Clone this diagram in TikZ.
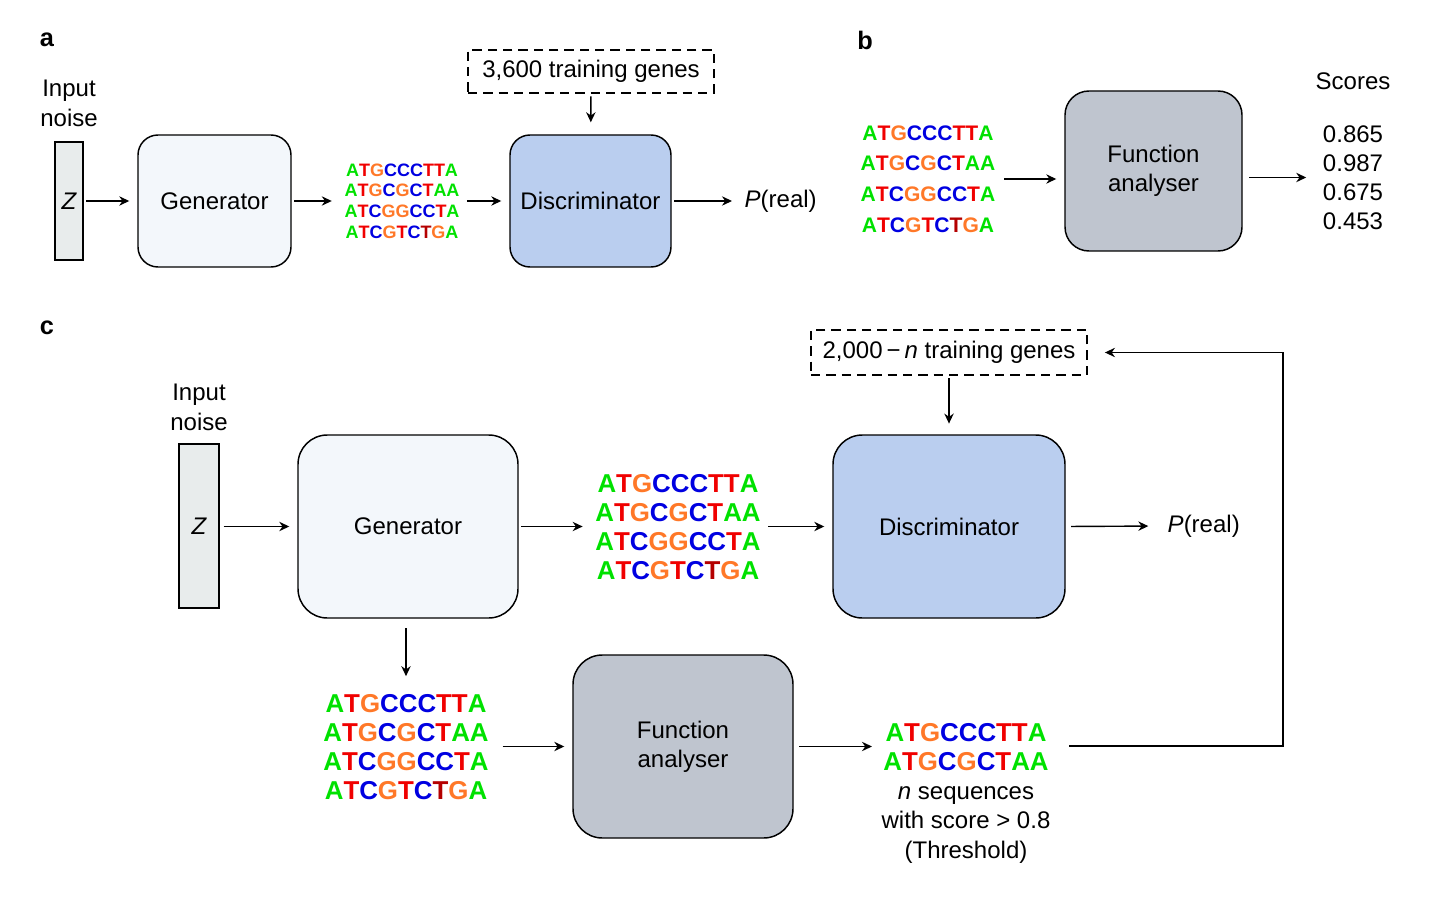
\documentclass[tikz,border=0pt]{standalone}
\usepackage{fontspec}
\setmainfont{Liberation Sans}
\usetikzlibrary{arrows.meta}
\definecolor{nuA}{RGB}{0,225,0}
\definecolor{nuT}{RGB}{240,0,0}
\definecolor{nuD}{RGB}{180,0,0}
\definecolor{nuG}{RGB}{255,120,40}
\definecolor{nuC}{RGB}{0,0,225}
\definecolor{zfill}{RGB}{232,236,236}
\definecolor{genfill}{RGB}{243,247,251}
\definecolor{discfill}{RGB}{186,206,239}
\definecolor{fafill}{RGB}{191,197,207}
\newcommand\qA{\textcolor{nuA}{A}}
\newcommand\qT{\textcolor{nuT}{T}}
\newcommand\qD{\textcolor{nuD}{T}}
\newcommand\qG{\textcolor{nuG}{G}}
\newcommand\qC{\textcolor{nuC}{C}}
\newcommand\seqlines{\qA\qT\qG\qC\qC\qC\qT\qT\qA\\\qA\qT\qG\qC\qG\qC\qT\qA\qA\\\qA\qT\qC\qG\qG\qC\qC\qT\qA\\\qA\qT\qC\qG\qT\qC\qD\qG\qA}
\begin{document}
\begin{tikzpicture}[x=0.75pt,y=-0.75pt,line width=1.1pt,
  lbl/.style={font=\fontsize{18}{22.5}\selectfont, align=center, inner sep=3pt},
  plabel/.style={font=\fontsize{19}{22}\selectfont\bfseries, inner sep=0pt},
  zbox/.style={draw, fill=zfill, font=\fontsize{18}{22}\selectfont\itshape, inner sep=0pt},
  rboxa/.style={draw, rounded corners=15pt, font=\fontsize{18}{22}\selectfont, align=center, inner sep=0pt},
  rboxc/.style={draw, rounded corners=22pt, font=\fontsize{18}{22}\selectfont, align=center, inner sep=0pt},
  dbox/.style={draw, dash pattern=on 7pt off 4.5pt, line width=0.9pt, font=\fontsize{18}{22}\selectfont, inner sep=0pt},
  seqsmall/.style={font=\fontsize{13.5}{15.5}\selectfont\bfseries, align=center, inner sep=3pt},
  seqmid/.style={font=\fontsize{15.8}{23}\selectfont\bfseries, align=center, inner sep=3pt},
  seqbig/.style={font=\fontsize{19.4}{21.8}\selectfont\bfseries, align=center, inner sep=3pt},
  arr/.style={-{Stealth[length=7.5pt,width=7pt]}, line width=1.05pt, shorten <=2pt, shorten >=6pt}
]
\path[use as bounding box] (0,0) rectangle (1442,898);

% ---------------- panel a
\node[plabel] (la) at (47,40) {a};
\node[lbl] (ina) at (69,103) {Input\\noise};
\node[zbox, minimum width=21pt, minimum height=88.5pt] (za) at (69,201) {Z};
\node[rboxa, fill=genfill, minimum width=114.75pt, minimum height=99pt] (gena) at (214.5,201) {Generator};
\node[seqsmall] (sqa) at (402,201) {\seqlines};
\node[rboxa, fill=discfill, minimum width=120.75pt, minimum height=99pt] (disa) at (590.5,201) {Discriminator};
\node[dbox, minimum width=184.5pt, minimum height=32.25pt] (tra) at (591,71.5) {3,600 training genes};
\node[lbl, anchor=west] (pa) at (740,201) {\textit{P}(real)};
\draw[arr] (za) -- (gena);
\draw[arr] (gena) -- (sqa);
\draw[arr] (sqa) -- (disa);
\draw[arr, shorten >=9pt] (tra) -- (disa);
\draw[arr] (disa) -- (pa);

% ---------------- panel b
\node[plabel] (lb) at (865,40) {b};
\node[seqmid] (sqb) at (928,179) {\seqlines};
\node[rboxa, rounded corners=18pt, fill=fafill, minimum width=132.75pt, minimum height=120pt] (fab) at (1153.5,171) {Function\\analyser};
\node[lbl] (scl) at (1353,81) {Scores};
\node[lbl, font=\fontsize{18}{21.75}\selectfont] (scb) at (1353,177.5) {0.865\\0.987\\0.675\\0.453};
\draw[arr, shorten <=3pt] (sqb.east) -- (fab.west |- sqb.east);
\draw[arr, shorten >=9pt, shorten <=5pt] (fab.east |- scb.west) -- (scb.west);

% ---------------- panel c
\node[plabel] (lc) at (47,328) {c};
\node[lbl] (inc) at (199,407) {Input\\noise};
\node[zbox, minimum width=30pt, minimum height=123pt] (zc) at (199,526) {Z};
\node[rboxc, fill=genfill, minimum width=165pt, minimum height=137.25pt] (genc) at (408,526.5) {Generator};
\node[seqbig] (sqc) at (678,527) {\seqlines};
\node[rboxc, fill=discfill, minimum width=174pt, minimum height=137.25pt] (disc) at (949,526.5) {Discriminator};
\node[dbox, minimum width=207pt, minimum height=33.75pt] (trc) at (949,352.5) {2,000\,−\,\textit{n} training genes};
\node[lbl, anchor=west] (pc) at (1163,526) {\textit{P}(real)};
\node[seqbig] (sqd) at (406,747) {\seqlines};
\node[rboxc, fill=fafill, minimum width=165pt, minimum height=137.25pt] (fac) at (683,746.5) {Function\\analyser};
\node[seqbig] (sqe) at (966,747.5) {\qA\qT\qG\qC\qC\qC\qT\qT\qA\\\qA\qT\qG\qC\qG\qC\qT\qA\qA};
\node[lbl, font=\fontsize{18}{22.2}\selectfont] (cap) at (966,825) {\textit{n} sequences\\with score > 0.8\\(Threshold)};
\coordinate (fb) at (1283,746);
\draw[arr, shorten <=3pt] (zc.east |- genc.west) -- (genc.west);
\draw[arr] (genc.east) -- (sqc.west |- genc.east);
\draw[arr] (sqc.east |- disc.west) -- (disc.west);
\draw[arr, shorten <=4pt, shorten >=11pt] (disc.east) -- (pc.west);
\draw[arr, shorten >=8pt] (trc) -- (disc);
\draw[arr, shorten <=7pt, shorten >=10pt] (genc.south -| sqd.north) -- (sqd.north);
\draw[arr, shorten <=7pt] (sqd.east |- fac.west) -- (fac.west);
\draw[arr, shorten <=4pt, shorten >=5pt] (fac.east) -- (sqe.west |- fac.east);
\draw[arr, shorten <=12pt, shorten >=13pt] (sqe.east |- fb) -- (fb) |- (trc.east);
\end{tikzpicture}
\end{document}
